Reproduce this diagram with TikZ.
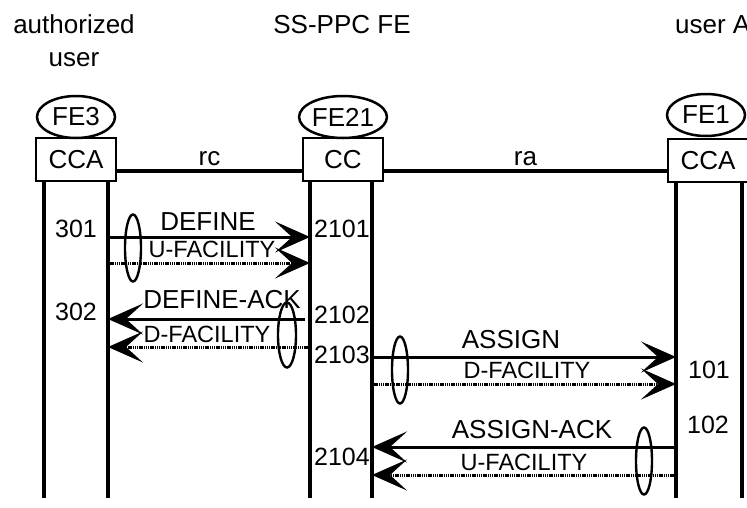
\documentclass[tikz,border=0pt]{standalone}
\usepackage{fontspec}
\setmainfont{Liberation Sans}
\usetikzlibrary{arrows.meta,positioning,shapes.geometric}

\tikzset{
    fe/.style={draw,ellipse,line width=2.5pt,minimum width=78pt,minimum height=42pt,inner sep=0pt,font=\fontsize{26}{28}\selectfont},
    entity/.style={draw,line width=2pt,minimum width=80pt,minimum height=43pt,inner sep=0pt,font=\fontsize{26}{28}\selectfont},
    life/.style={line width=3.2pt},
    sig/.style={line width=3pt,-{Stealth[length=35pt,width=31pt,inset=17pt]}},
    fac/.style={line width=3pt,dash pattern=on 1.4pt off 0.8pt,-{Stealth[length=35pt,width=31pt,inset=17pt]}},
    bundle/.style={draw,ellipse,line width=2.4pt,minimum width=16pt,minimum height=67pt,inner sep=0pt},
    txt/.style={anchor=base,inner sep=0pt,font=\fontsize{26}{28}\selectfont},
    ftxt/.style={anchor=base,inner sep=0pt,font=\fontsize{23.5}{25}\selectfont},
    num/.style={anchor=base,inner sep=0pt,font=\fontsize{25}{27}\selectfont}
}

\begin{document}
\begin{tikzpicture}[x=1pt,y=-1pt]
    \useasboundingbox (0,0) rectangle (747,507);

    % titles
    \node[txt] (t3) at (74,33) {authorized};
    \node[txt] (t3b) at (74,66) {user};
    \node[txt] (t21) at (342,33) {SS-PPC FE};
    \node[txt,anchor=base west] (t1) at (675,33) {user A};

    % functional entities
    \node[fe] (fe3) at (76,117) {FE3};
    \node[fe] (fe21) at (343,117) {FE21};
    \node[fe] (fe1) at (706,115) {FE1};
    \node[entity] (cca3) at (76,159.5) {CCA};
    \node[entity] (cc21) at (343,159.5) {CC};
    \node[entity] (cca1) at (708,160.5) {CCA};

    % relationships
    \draw[life] (cca3.east |- 0,171) -- node[txt,above=4pt] {rc} (cc21.west |- 0,171);
    \draw[life] (cc21.east |- 0,171) -- node[txt,above=4pt] {ra} (cca1.west |- 0,171);

    % lifelines
    \coordinate (a1) at (44,181);
    \coordinate (a2) at (108,181);
    \coordinate (s1) at (310,181);
    \coordinate (s2) at (372,181);
    \coordinate (u1) at (676,182);
    \coordinate (u2) at (742,182);
    \foreach \l in {a1,a2,s1,s2,u1,u2}
        \draw[life] (\l) -- (\l |- 0,498);

    % DEFINE
    \draw[sig] (a2 |- 0,237) -- (s1 |- 0,237);
    \draw[fac] (a2 |- 0,263) -- (s1 |- 0,263);
    \node[txt] (m1) at (208,230) {DEFINE};
    \node[ftxt] (f1) at (212,257) {U-FACILITY};
    \node[bundle] (b1) at (133,248) {};
    \node[num] (n301) at (76,237) {301};
    \node[num] (n2101) at (342,237) {2101};

    % DEFINE-ACK
    \draw[sig] ([xshift=-5pt]s1 |- 0,319) -- (a2 |- 0,319);
    \draw[fac] (s1 |- 0,347) -- (a2 |- 0,347);
    \node[txt] (m2) at (222,308) {DEFINE-ACK};
    \node[ftxt] (f2) at (207,342) {D-FACILITY};
    \node[bundle,minimum width=18pt,minimum height=65pt] (b2) at (287,335) {};
    \node[num] (n302) at (76,320) {302};
    \node[num] (n2102) at (342,323) {2102};
    \node[num] (n2103) at (342,363) {2103};

    % ASSIGN
    \draw[sig] (s2 |- 0,357) -- (u1 |- 0,357);
    \draw[fac] (s2 |- 0,384) -- (u1 |- 0,384);
    \node[txt] (m3) at (511,348) {ASSIGN};
    \node[ftxt] (f3) at (527,378) {D-FACILITY};
    \node[bundle] (b3) at (400,370) {};
    \node[num] (n101) at (709,378) {101};

    % ASSIGN-ACK
    \draw[sig] (u1 |- 0,447) -- (s2 |- 0,447);
    \draw[fac] (u1 |- 0,475) -- (s2 |- 0,475);
    \node[txt] (m4) at (532,438) {ASSIGN-ACK};
    \node[ftxt] (f4) at (524,470) {U-FACILITY};
    \node[bundle] (b4) at (644,461) {};
    \node[num] (n102) at (708,433) {102};
    \node[num] (n2104) at (342,465) {2104};
\end{tikzpicture}
\end{document}
